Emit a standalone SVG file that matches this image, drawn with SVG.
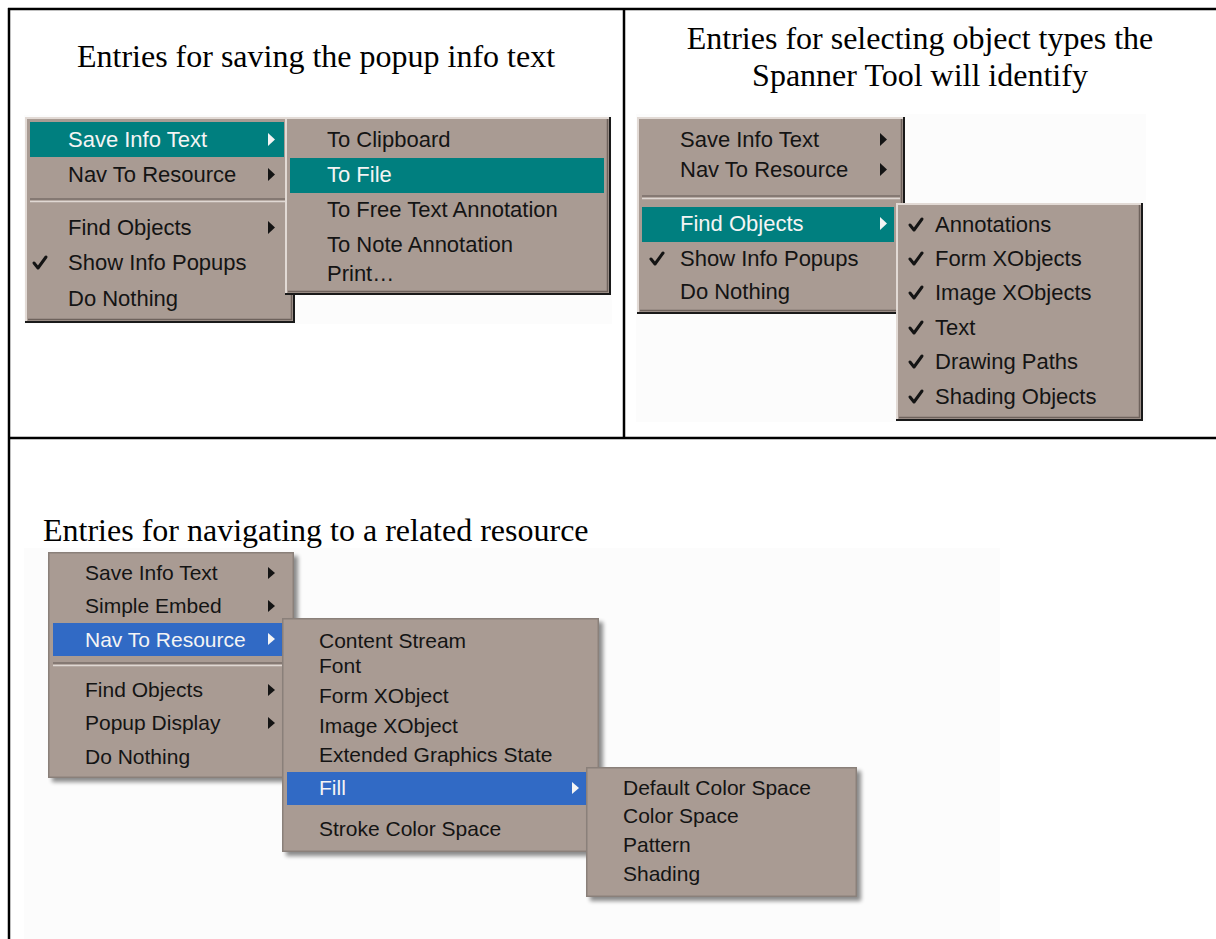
<svg xmlns="http://www.w3.org/2000/svg" width="1216" height="939" viewBox="0 0 1216 939">
<style>
.m{fill:#A99B93}
.lt{stroke:#E2DAD5;stroke-width:2;fill:none}
.dk{stroke:#1A1A1A;stroke-width:2;fill:none}
.dk2{stroke:#6E625C;stroke-width:1.5;fill:none}
.sepd{stroke:#7A6E68;stroke-width:1.5}
.sepl{stroke:#E0D8D3;stroke-width:1.5}
.teal{fill:#007F7F}
.blue{fill:#316AC5}
.t1{font-family:"Liberation Sans",Arial,sans-serif;font-size:22px;fill:#141414}
.t3{font-family:"Liberation Sans",Arial,sans-serif;font-size:21px;fill:#141414}
.w{fill:#F4F4F4}
.ar{fill:#141414}
.arw{fill:#F4F4F4}
.ck{stroke:#141414;stroke-width:3;fill:none;stroke-linecap:round;stroke-linejoin:round}
.title{font-family:"Liberation Serif","Times New Roman",serif;font-size:32px;fill:#000}
.tb{stroke:#000;stroke-width:2.5;fill:none}
.xpb{fill:none;stroke:#8A807A;stroke-width:1.5}
.shd{fill:#000;opacity:0.45}
.bg{fill:#FCFCFC}
</style>
<defs>
<filter id="blur" x="-10%" y="-10%" width="130%" height="130%"><feGaussianBlur stdDeviation="2"/></filter>
</defs>

<g id="backgrounds">
<rect class="bg" x="24" y="115" width="588" height="209"/>
<rect class="bg" x="636" y="114" width="510" height="308"/>
<rect class="bg" x="24" y="548" width="976" height="391"/>
</g>

<g id="table">
<line class="tb" x1="8" y1="9" x2="1216" y2="9"/>
<line class="tb" x1="9" y1="8" x2="9" y2="939"/>
<line class="tb" x1="624" y1="8" x2="624" y2="438"/>
<line class="tb" x1="8" y1="438" x2="1216" y2="438"/>
</g>

<g id="titles">
<text class="title" x="316" y="67" text-anchor="middle">Entries for saving the popup info text</text>
<text class="title" x="920" y="49" text-anchor="middle">Entries for selecting object types the</text>
<text class="title" x="920" y="86" text-anchor="middle">Spanner Tool will identify</text>
<text class="title" x="43" y="541">Entries for navigating to a related resource</text>
</g>

<!-- Panel 1 -->
<g id="panel1">
<g id="p1-main">
<rect class="m" x="25" y="117" width="270" height="206"/>
<path class="lt" d="M26 322 V118 H294"/>
<path class="dk2" d="M28 319.5 H291.5 V119"/>
<path class="dk" d="M25 322 H294 V117"/>
<rect class="teal" x="30" y="122" width="254" height="35"/>
<text class="t1 w" x="68" y="147">Save Info Text</text>
<path class="arw" d="M268 133 L275 139.5 L268 146 Z"/>
<text class="t1" x="68" y="182">Nav To Resource</text>
<path class="ar" d="M268 168 L275 174.5 L268 181 Z"/>
<line class="sepd" x1="30" y1="199" x2="289" y2="199"/>
<line class="sepl" x1="30" y1="201.5" x2="289" y2="201.5"/>
<text class="t1" x="68" y="235">Find Objects</text>
<path class="ar" d="M268 221 L275 227.5 L268 234 Z"/>
<path class="ck" d="M34 263 L38 268 L46 257"/>
<text class="t1" x="68" y="270">Show Info Popups</text>
<text class="t1" x="68" y="306">Do Nothing</text>
</g>
<g id="p1-sub">
<rect class="m" x="285" y="117" width="326" height="178"/>
<path class="lt" d="M286 294 V118 H610"/>
<path class="dk2" d="M288 291.5 H607.5 V119"/>
<path class="dk" d="M285 294 H610 V117"/>
<text class="t1" x="327" y="147">To Clipboard</text>
<rect class="teal" x="290" y="158" width="314" height="35"/>
<text class="t1 w" x="327" y="182">To File</text>
<text class="t1" x="327" y="217">To Free Text Annotation</text>
<text class="t1" x="327" y="252">To Note Annotation</text>
<text class="t1" x="327" y="281">Print…</text>
</g>
</g>

<!-- Panel 2 -->
<g id="panel2">
<g id="p2-main">
<rect class="m" x="637" y="117" width="268" height="197"/>
<path class="lt" d="M638 313 V118 H904"/>
<path class="dk2" d="M640 310.5 H901.5 V119"/>
<path class="dk" d="M637 313 H904 V117"/>
<text class="t1" x="680" y="147">Save Info Text</text>
<path class="ar" d="M880 133 L887 139.5 L880 146 Z"/>
<text class="t1" x="680" y="177">Nav To Resource</text>
<path class="ar" d="M880 163 L887 169.5 L880 176 Z"/>
<line class="sepd" x1="642" y1="196" x2="900" y2="196"/>
<line class="sepl" x1="642" y1="198.5" x2="900" y2="198.5"/>
<rect class="teal" x="642" y="207" width="252" height="35"/>
<text class="t1 w" x="680" y="231">Find Objects</text>
<path class="arw" d="M880 217 L887 223.5 L880 230 Z"/>
<path class="ck" d="M651 259 L655 264 L663 253"/>
<text class="t1" x="680" y="266">Show Info Popups</text>
<text class="t1" x="680" y="299">Do Nothing</text>
</g>
<g id="p2-sub">
<rect class="m" x="896" y="203" width="247" height="218"/>
<path class="lt" d="M897 420 V204 H1142"/>
<path class="dk2" d="M899 417.5 H1139.5 V205"/>
<path class="dk" d="M896 420 H1142 V203"/>
<path class="ck" d="M910 225 L914 230 L922 219"/>
<text class="t1" x="935" y="232">Annotations</text>
<path class="ck" d="M910 259 L914 264 L922 253"/>
<text class="t1" x="935" y="266">Form XObjects</text>
<path class="ck" d="M910 293 L914 298 L922 287"/>
<text class="t1" x="935" y="300">Image XObjects</text>
<path class="ck" d="M910 328 L914 333 L922 322"/>
<text class="t1" x="935" y="335">Text</text>
<path class="ck" d="M910 362 L914 367 L922 356"/>
<text class="t1" x="935" y="369">Drawing Paths</text>
<path class="ck" d="M910 397 L914 402 L922 391"/>
<text class="t1" x="935" y="404">Shading Objects</text>
</g>
</g>

<!-- Panel 3 -->
<g id="panel3">
<g id="p3-main">
<rect class="shd" x="52" y="556" width="246" height="226" filter="url(#blur)"/>
<rect class="m" x="48" y="552" width="246" height="226"/>
<rect class="xpb" x="48.75" y="552.75" width="244.5" height="224.5"/>
<text class="t3" x="85" y="580">Save Info Text</text>
<path class="ar" d="M268 567 L275 573 L268 579 Z"/>
<text class="t3" x="85" y="613">Simple Embed</text>
<path class="ar" d="M268 600 L275 606 L268 612 Z"/>
<rect class="blue" x="53" y="623" width="231" height="33"/>
<text class="t3 w" x="85" y="647">Nav To Resource</text>
<path class="arw" d="M268 633 L275 639 L268 645 Z"/>
<line class="sepd" x1="53" y1="663" x2="288" y2="663"/>
<line class="sepl" x1="53" y1="665.5" x2="288" y2="665.5"/>
<text class="t3" x="85" y="697">Find Objects</text>
<path class="ar" d="M268 684 L275 690 L268 696 Z"/>
<text class="t3" x="85" y="730">Popup Display</text>
<path class="ar" d="M268 717 L275 723 L268 729 Z"/>
<text class="t3" x="85" y="764">Do Nothing</text>
</g>
<g id="p3-sub">
<rect class="shd" x="286" y="622" width="317" height="234" filter="url(#blur)"/>
<rect class="m" x="282" y="618" width="317" height="234"/>
<rect class="xpb" x="282.75" y="618.75" width="315.5" height="232.5"/>
<text class="t3" x="319" y="648">Content Stream</text>
<text class="t3" x="319" y="673">Font</text>
<text class="t3" x="319" y="703">Form XObject</text>
<text class="t3" x="319" y="733">Image XObject</text>
<text class="t3" x="319" y="762">Extended Graphics State</text>
<rect class="blue" x="287" y="772" width="301" height="33"/>
<text class="t3 w" x="319" y="795">Fill</text>
<path class="arw" d="M572 782 L579 788 L572 794 Z"/>
<text class="t3" x="319" y="836">Stroke Color Space</text>
</g>
<g id="p3-fill">
<rect class="shd" x="590" y="771" width="271" height="130" filter="url(#blur)"/>
<rect class="m" x="586" y="767" width="271" height="130"/>
<rect class="xpb" x="586.75" y="767.75" width="269.5" height="128.5"/>
<text class="t3" x="623" y="795">Default Color Space</text>
<text class="t3" x="623" y="823">Color Space</text>
<text class="t3" x="623" y="852">Pattern</text>
<text class="t3" x="623" y="881">Shading</text>
</g>
</g>
</svg>
